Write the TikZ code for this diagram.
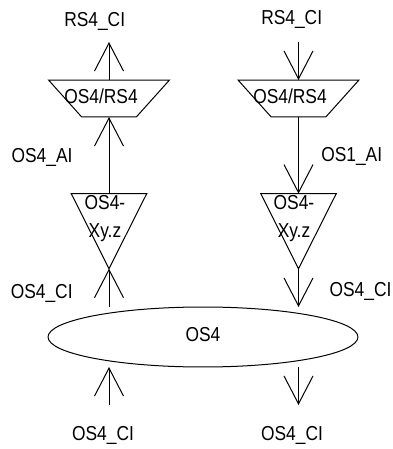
\documentclass[tikz,border=0pt]{standalone}
\usepackage{fontspec}
\setmainfont[FakeStretch=0.86]{Liberation Sans}
\usetikzlibrary{arrows.meta,shapes.geometric}

\begin{document}
\begin{tikzpicture}[x=0.02cm, y=-0.02cm, line width=0.02cm]

    \tikzset{txt/.style={%
      inner sep=0pt,%
      font=\fontsize{11.5pt}{16.2pt}\selectfont,%
      align=center}%
    };

    \tikzset{lbl/.style={txt, text height=8.2pt, text depth=0pt}};

    \tikzset{adapt/.style={%
      draw,%
      trapezium,%
      shape border rotate=180,%
      trapezium stretches=true,%
      trapezium angle=58.7,%
      inner sep=1pt,%
      outer sep=0pt,%
      minimum width=2.42cm,%
      minimum height=0.74cm}%
    };

    \tikzset{term/.style={%
      draw,%
      isosceles triangle,%
      isosceles triangle apex angle=53.4,%
      isosceles triangle stretches=true,%
      shape border rotate=-90,%
      inner sep=1pt,%
      outer sep=0pt,%
      minimum width=1.51cm,%
      minimum height=1.5cm}%
    };

    \tikzset{barb/.style={-{Straight Barb[length=0.56cm, width=0.58cm]}}};

    \useasboundingbox (0, 0) rectangle (392, 449);

    %%%%%%%%%%%%%%%
    %   shapes    %
    %%%%%%%%%%%%%%%
    \node [adapt] (adl) at (109, 98.5) {};
    \node [adapt] (adr) at (298.5, 98.5) {};
    \node [term] (trl) at (109, 216.5) {};
    \node [term] (trr) at (298.5, 216.5) {};
    \node [draw, ellipse, inner sep=1pt, outer sep=0pt,
      minimum width=6.2cm, minimum height=1.2cm] (os) at (203, 337) {};

    %%%%%%%%%%%%%%%
    %   labels    %
    %%%%%%%%%%%%%%%
    \node [lbl] (adltxt) at (101, 96) {OS4/RS4};
    \node [lbl] (adrtxt) at (290, 96) {OS4/RS4};
    \node [txt] (trltxt) at (105, 218.5) {OS4-\\Xy.z};
    \node [txt] (trrtxt) at (294, 218.5) {OS4-\\Xy.z};
    \node [lbl] (ostxt) at (203, 334) {OS4};
    \node [lbl] (rsl) at (94.7, 19.5) {RS4\_CI};
    \node [lbl] (rsr) at (291.7, 17.5) {RS4\_CI};
    \node [lbl] (ail) at (42, 155) {OS4\_AI};
    \node [lbl] (air) at (351.7, 154) {OS1\_AI};
    \node [lbl] (cil) at (41.7, 291) {OS4\_CI};
    \node [lbl] (cir) at (360.5, 289) {OS4\_CI};
    \node [lbl] (cbl) at (103, 433) {OS4\_CI};
    \node [lbl] (cbr) at (292, 433) {OS4\_CI};

    %%%%%%%%%%%%%%%
    %  free ends  %
    %%%%%%%%%%%%%%%
    \coordinate (topl) at (109, 42);
    \coordinate (topr) at (298.5, 42);
    \coordinate (botl) at (109, 405);
    \coordinate (botr) at (298.5, 405);

    \draw [barb] (adl.north) -- (topl);
    \draw [barb] (topr) -- (adr.north);
    \draw [barb] (trl.north) -- (adl.south);
    \draw [barb] (adr.south) -- (trr.north);
    \draw [barb] (trl.south |- os.north) -- (trl.south);
    \draw [barb] (trr.south) -- (trr.south |- os.north);
    \draw [barb] (botl) -- (botl |- os.south);
    \draw [barb] (botr |- os.south) -- (botr);

  \end{tikzpicture}
\end{document}
